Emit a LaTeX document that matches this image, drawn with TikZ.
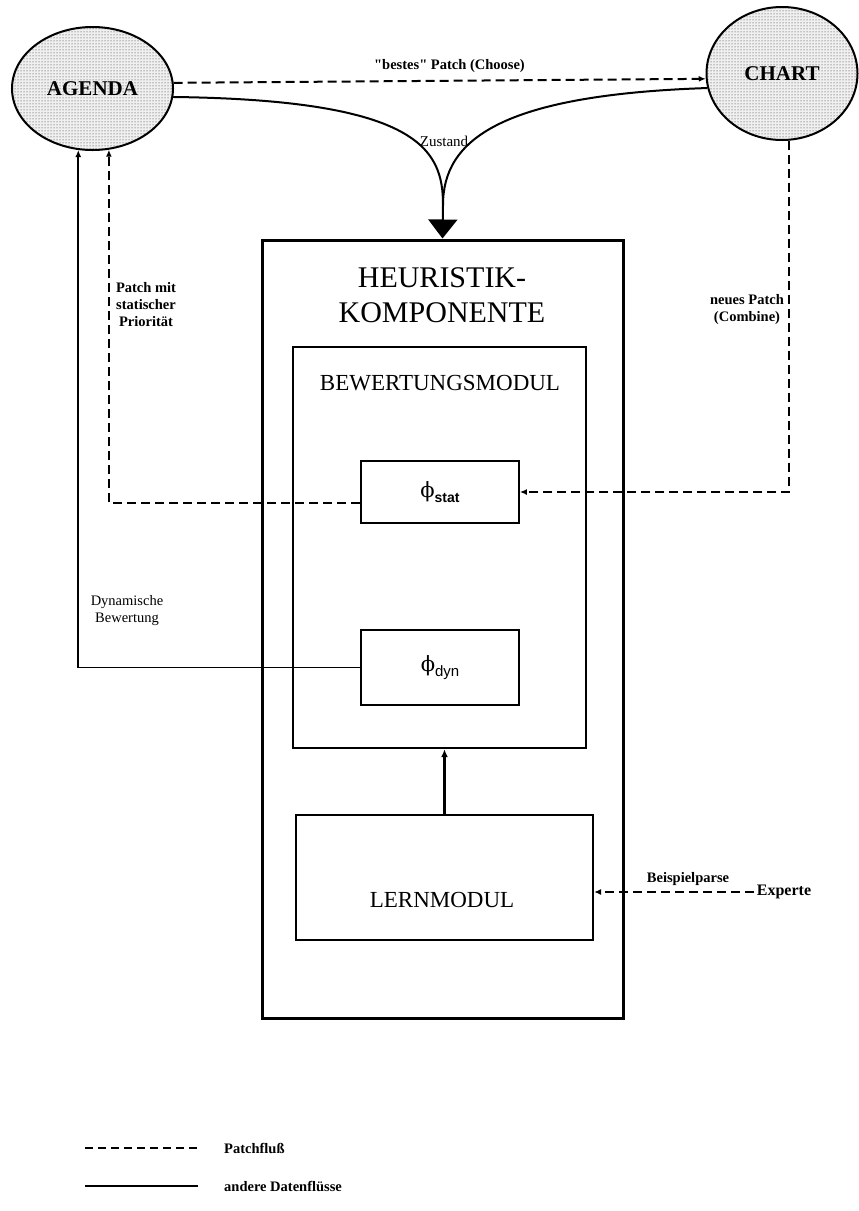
\documentclass[tikz,border=0pt]{standalone}
\usepackage{fontspec}
\setmainfont{Liberation Serif}
\setsansfont{Liberation Sans}
\newfontfamily\phifont{DejaVu Serif}
\newfontfamily\qfont{Liberation Serif}
\usetikzlibrary{patterns,arrows.meta,shapes.geometric,calc}
\begin{document}
\begin{tikzpicture}[x=1pt,y=-1pt,
  blob/.style={ellipse,draw,line width=2pt,inner sep=0pt,
    preaction={fill=gray!12},pattern=dots,pattern color=black!85,
    font=\fontsize{21}{24}\selectfont\bfseries},
  box/.style={draw,rectangle,inner sep=0pt,line width=1.8pt},
  big/.style={font=\fontsize{30}{34}\selectfont,inner sep=0pt},
  mid/.style={font=\fontsize{23}{26}\selectfont,inner sep=0pt},
  lab/.style={font=\fontsize{14.5}{17}\selectfont\bfseries,align=center,inner sep=1pt},
  labr/.style={font=\fontsize{14.5}{17}\selectfont,align=center,inner sep=1pt},
  tip/.style={-{Latex[length=7pt,width=6pt]}},
  pf/.style={line width=2pt,dash pattern=on 9pt off 5pt,tip},
  df/.style={line width=1.7pt,tip}
]
\useasboundingbox (0,0) rectangle (859,1211);

% ellipses
\node[blob,minimum width=161pt,minimum height=123pt] (agenda) at (92.5,88.5) {AGENDA};
\node[blob,minimum width=151pt,minimum height=133pt] (chart) at (782,73.5) {\raisebox{-4pt}{CHART}};

% boxes
\node[box,line width=3pt,minimum width=361pt,minimum height=778pt] (heur) at (442.5,629) {};
\node[big,anchor=base] (t1) at (442,287) {HEURISTIK-};
\node[big,anchor=base] (t2) at (442,322) {KOMPONENTE};
\node[box,line width=2.4pt,minimum width=293pt,minimum height=401pt] (bew) at (439.5,547.5) {};
\node[mid,anchor=base] (t3) at (440,390) {BEWERTUNGSMODUL};
\node[box,minimum width=158pt,minimum height=62pt] (stat) at (440,492)
  {\phifont\fontsize{21}{22}\selectfont ϕ\raisebox{-5pt}{\sffamily\bfseries\fontsize{14}{14}\selectfont stat}};
\node[box,minimum width=158pt,minimum height=75pt] (dyn) at (440,667.5)
  {\phifont\fontsize{21}{22}\selectfont ϕ\raisebox{-5pt}{\sffamily\fontsize{15}{15}\selectfont dyn}};
\node[box,line width=2.2pt,minimum width=297pt,minimum height=125pt] (lern) at (444.5,877.5) {};
\node[mid,anchor=base] (t4) at (442,907) {LERNMODUL};
\node[font=\fontsize{16}{18}\selectfont\bfseries,inner sep=3pt] (experte) at (784,892) {Experte};

% connectors
\draw[pf] (agenda.4) -- (chart.184);
\node[lab] (l1) at (449.5,66) {{\qfont\bfseries "}bestes{\qfont\bfseries "} Patch (Choose)};

\coordinate (merge) at (443,205);
\draw[line width=2pt] (agenda.-6) .. controls (420,100) and (443,150) .. (merge);
\draw[line width=2pt] (chart.191) .. controls (500,95) and (443,140) .. (merge);
\draw[line width=2pt,-{Triangle[width=29pt,length=19pt]}] (merge) -- (heur.north);
\node[labr,font=\fontsize{15}{17}\selectfont] (l2) at (444,141) {Zustand};

\draw[pf] (chart.-84) |- (stat.east);
\node[lab] (l3) at (747,310) {neues Patch\\(Combine)};

\draw[pf] ([yshift=-11pt]stat.west) -| (agenda.-75.6);
\node[lab] (l4) at (146,305) {Patch mit\\statischer\\Priorität};

\draw[df] (dyn.west) -| (agenda.-103.5);
\node[labr] (l5) at (127,611) {Dynamische\\Bewertung};

\draw[line width=2.6pt,-{Latex[length=8pt,width=7pt]}] (lern.north) -- (lern.north |- bew.south);

\draw[pf] (experte.west) -- (experte.west -| lern.east);
\node[lab] (l6) at (688,879) {Beispielparse};

% legend
\coordinate (la) at (85,1148);
\coordinate (lb) at (198,1148);
\coordinate (lc) at (85,1186);
\coordinate (ld) at (198,1186);
\draw[line width=1.8pt,dash pattern=on 8pt off 5pt] (la) -- (lb);
\draw[line width=1.6pt] (lc) -- (ld);
\node[lab,anchor=west] (lg1) at (223,1148) {Patchfluß};
\node[lab,anchor=west] (lg2) at (223,1186) {andere Datenflüsse};
\end{tikzpicture}
\end{document}
